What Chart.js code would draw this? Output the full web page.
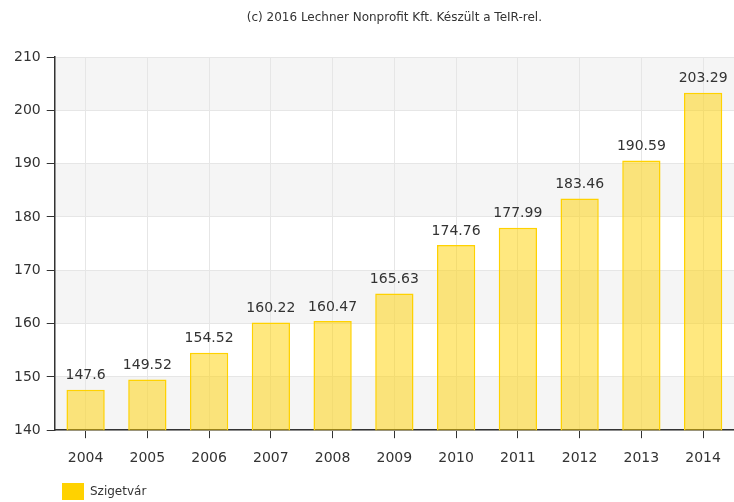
<!DOCTYPE html>
<html>
<head>
<meta charset="utf-8">
<script src="https://cdn.jsdelivr.net/npm/chart.js@4"></script>
<style>
  html, body { margin: 0; padding: 0; background: #fff; }
  #wrap { width: 734px; height: 502px; position: relative; }
</style>
</head>
<body>
<div id="wrap"><canvas id="grafikon"></canvas></div>
<script>
// adatok
const evek = ["2004", "2005", "2006", "2007", "2008", "2009", "2010", "2011", "2012", "2013", "2014"];
const ertekek = [147.6, 149.52, 154.52, 160.22, 160.47, 165.63, 174.76, 177.99, 183.46, 190.59, 203.29];
const sorozatNev = "Szigetvár";
const forrasSzoveg = "(c) 2016 Lechner Nonprofit Kft. Készült a TeIR-rel.";
const yMin = 140;
const yMax = 210;
const yLepes = 10;

const betu = "'DejaVu Sans', Verdana, sans-serif";
const szovegSzin = "#333";
const sargaSzin = "#ffd200";

// szurke savok minden masodik tartomanyban (140-150, 160-170, ...)
const savokPlugin = {
  id: "savok",
  beforeDraw(chart) {
    const { ctx, chartArea, scales } = chart;
    const y = scales.y;
    ctx.save();
    ctx.fillStyle = "#f5f5f5";
    for (let v = yMin; v < yMax; v += yLepes * 2) {
      const top = y.getPixelForValue(v + yLepes);
      const bottom = y.getPixelForValue(v);
      ctx.fillRect(chartArea.left, top, chartArea.right - chartArea.left, bottom - top);
    }
    ctx.restore();
  },
};

// ertek feliratok az oszlopok folott, forras szoveg es jelmagyarazat
const feliratPlugin = {
  id: "feliratok",
  afterDatasetsDraw(chart) {
    const { ctx, chartArea } = chart;
    const meta = chart.getDatasetMeta(0);
    ctx.save();
    ctx.fillStyle = szovegSzin;
    ctx.font = "14px " + betu;
    ctx.textAlign = "center";
    ctx.textBaseline = "bottom";
    meta.data.forEach((bar, i) => {
      ctx.fillText(String(ertekek[i]), bar.x, bar.y - 7);
    });

    ctx.font = "12px " + betu;
    ctx.textBaseline = "middle";
    ctx.fillText(forrasSzoveg, (chartArea.left + chartArea.right) / 2, 18);

    // jelmagyarazat bal alul
    ctx.fillStyle = sargaSzin;
    ctx.fillRect(62, 483, 22, 17);
    ctx.fillStyle = szovegSzin;
    ctx.textAlign = "left";
    ctx.font = "12px " + betu;
    ctx.fillText(sorozatNev, 90, 492);
    ctx.restore();
  },
};

new Chart(document.getElementById("grafikon"), {
  type: "bar",
  data: {
    labels: evek,
    datasets: [
      {
        label: sorozatNev,
        data: ertekek,
        backgroundColor: "rgba(255, 210, 0, 0.5)",
        borderColor: sargaSzin,
        borderWidth: 1.5,
        categoryPercentage: 1,
        barPercentage: 0.62,
      },
    ],
  },
  options: {
    responsive: true,
    maintainAspectRatio: false,
    animation: false,
    layout: { padding: { top: 57, left: 8, right: 0, bottom: 23 } },
    plugins: {
      tooltip: { enabled: false },
      title: { display: false },
      legend: { display: false },
    },
    scales: {
      x: {
        grid: {
          offset: false,
          color: "#e6e6e6",
          tickColor: szovegSzin,
          tickLength: 8,
        },
        border: { display: true, color: szovegSzin, width: 1.5 },
        ticks: {
          color: szovegSzin,
          font: { family: betu, size: 14 },
          padding: 12,
        },
      },
      y: {
        min: yMin,
        max: yMax,
        grid: {
          color: "#e6e6e6",
          tickColor: szovegSzin,
          tickLength: 8,
        },
        border: { display: true, color: szovegSzin, width: 1.5 },
        ticks: {
          stepSize: yLepes,
          color: szovegSzin,
          font: { family: betu, size: 14 },
          padding: 6,
        },
      },
    },
  },
  plugins: [savokPlugin, feliratPlugin],
});
</script>
</body>
</html>
